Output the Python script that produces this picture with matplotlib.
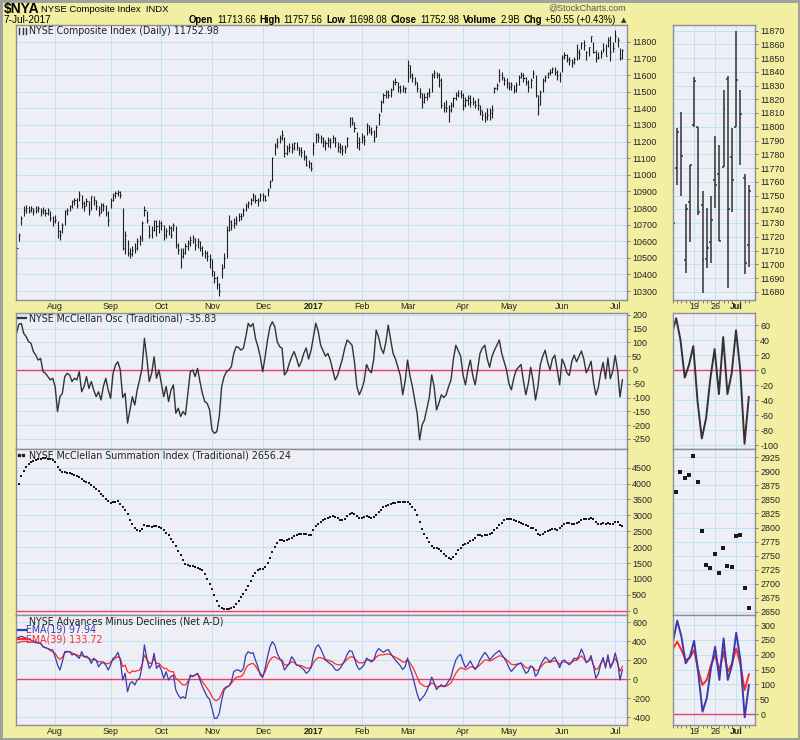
import numpy as np
import matplotlib
matplotlib.use('Agg')
import matplotlib.pyplot as plt
from matplotlib.collections import LineCollection
from matplotlib.lines import Line2D

# ---------------------------------------------------------------------------
# Datos (un valor por sesion, 8-jul-2016 .. 7-jul-2017)

closes = [
    10560, 10640, 10740, 10790, 10800, 10790, 10800, 10780, 10790, 10800, 10780, 10790, 10770, 10790, 10740, 10720,
    10730, 10660, 10640, 10700, 10780, 10790, 10810, 10840, 10850, 10820, 10880, 10830, 10810, 10840, 10780, 10870, 10850, 10810, 10770, 10820, 10810, 10770, 10730,
    10850, 10880, 10890, 10895, 10880, 10560, 10640, 10530, 10520, 10550, 10560, 10600, 10620, 10710, 10790, 10730, 10640, 10670, 10720, 10690, 10710,
    10700, 10640, 10660, 10680, 10640, 10700, 10580, 10550, 10510, 10530, 10570, 10590, 10610, 10620, 10580, 10600, 10560, 10530, 10530, 10510, 10490,
    10420, 10380, 10340, 10300, 10440, 10500, 10670, 10720, 10700, 10710, 10730, 10750, 10750, 10790, 10810, 10830, 10850, 10880, 10850, 10840, 10880,
    10870, 10850, 10910, 10960, 11100, 11180, 11200, 11220, 11240, 11130, 11160, 11170, 11160, 11190, 11170, 11150, 11140, 11110, 11060, 11070, 11040,
    11180, 11240, 11230, 11220, 11200, 11190, 11210, 11200, 11220, 11200, 11170, 11160, 11150, 11160, 11220, 11340, 11320, 11280, 11190, 11200,
    11230, 11210, 11300, 11270, 11260, 11230, 11290, 11360, 11440, 11480, 11500, 11480, 11510, 11560, 11560, 11530, 11510, 11520, 11520,
    11660, 11600, 11580, 11560, 11520, 11490, 11440, 11470, 11490, 11500, 11600, 11610, 11600, 11570, 11420, 11410, 11400, 11390, 11420, 11460, 11480, 11490, 11480,
    11420, 11450, 11460, 11440, 11440, 11420, 11420, 11390, 11360, 11350, 11360, 11370, 11390, 11520, 11540, 11600, 11590, 11570, 11550,
    11530, 11540, 11510, 11540, 11590, 11600, 11580, 11560, 11530, 11570, 11610, 11480, 11420, 11500, 11570, 11590, 11610, 11620, 11640, 11620, 11600, 11600,
    11710, 11720, 11700, 11690, 11680, 11700, 11740, 11730, 11796, 11779, 11740, 11772, 11833, 11738, 11703, 11712, 11732, 11758, 11717, 11813, 11740, 11761,
    11834, 11809, 11701, 11752.98]

highs = [
    10580, 10650, 10750, 10810, 10820, 10810, 10815, 10800, 10810, 10815, 10800, 10805, 10795, 10800, 10780, 10750,
    10760, 10720, 10670, 10710, 10790, 10800, 10820, 10850, 10860, 10860, 10900, 10880, 10840, 10860, 10840, 10875, 10870, 10850, 10810, 10830, 10830, 10820, 10780,
    10860, 10890, 10900, 10910, 10900, 10800, 10660, 10610, 10560, 10570, 10590, 10620, 10640, 10720, 10810, 10780, 10700, 10690, 10730, 10730, 10730,
    10720, 10700, 10680, 10700, 10690, 10710, 10690, 10590, 10560, 10560, 10590, 10610, 10630, 10640, 10620, 10620, 10600, 10570, 10550, 10540, 10520,
    10490, 10420, 10390, 10350, 10460, 10530, 10690, 10760, 10730, 10740, 10750, 10770, 10770, 10800, 10830, 10840, 10860, 10890, 10880, 10860, 10890,
    10890, 10880, 10920, 10970, 11110, 11190, 11220, 11240, 11270, 11230, 11180, 11190, 11190, 11200, 11200, 11170, 11170, 11150, 11120, 11090, 11080,
    11200, 11250, 11250, 11240, 11230, 11210, 11230, 11220, 11240, 11230, 11200, 11190, 11180, 11180, 11230, 11350, 11350, 11320, 11260, 11230,
    11250, 11240, 11310, 11300, 11290, 11270, 11300, 11370, 11450, 11490, 11510, 11510, 11520, 11570, 11580, 11560, 11540, 11540, 11530,
    11690, 11660, 11610, 11590, 11560, 11520, 11490, 11490, 11500, 11520, 11610, 11630, 11620, 11610, 11580, 11440, 11450, 11420, 11440, 11470, 11500, 11510, 11510,
    11490, 11470, 11480, 11480, 11470, 11450, 11460, 11420, 11390, 11380, 11400, 11400, 11420, 11530, 11550, 11640, 11620, 11590, 11580,
    11560, 11560, 11540, 11560, 11600, 11620, 11610, 11590, 11570, 11580, 11630, 11600, 11480, 11510, 11580, 11600, 11620, 11640, 11650, 11650, 11630, 11620,
    11720, 11740, 11730, 11710, 11700, 11710, 11790, 11760, 11799, 11811, 11744, 11772, 11836, 11800, 11753, 11741, 11750, 11793, 11787, 11827, 11837, 11799,
    11870, 11827, 11766, 11757.56]

lows = [
    10410, 10600, 10700, 10750, 10770, 10770, 10775, 10760, 10770, 10775, 10750, 10765, 10750, 10760, 10720, 10690,
    10710, 10620, 10610, 10650, 10700, 10760, 10780, 10800, 10820, 10800, 10840, 10800, 10780, 10810, 10760, 10790, 10820, 10790, 10750, 10770, 10780, 10750, 10690,
    10800, 10840, 10860, 10870, 10860, 10550, 10520, 10510, 10500, 10510, 10530, 10550, 10580, 10600, 10750, 10710, 10620, 10620, 10660, 10630, 10650,
    10670, 10610, 10620, 10640, 10620, 10660, 10560, 10520, 10440, 10500, 10520, 10550, 10570, 10590, 10550, 10560, 10540, 10510, 10500, 10480, 10440,
    10390, 10350, 10310, 10270, 10380, 10440, 10500, 10660, 10670, 10680, 10700, 10720, 10730, 10750, 10780, 10800, 10820, 10840, 10830, 10810, 10840,
    10840, 10840, 10870, 10920, 10960, 11120, 11160, 11190, 11210, 11110, 11120, 11140, 11130, 11150, 11150, 11120, 11110, 11090, 11050, 11040, 11020,
    11120, 11190, 11200, 11190, 11170, 11150, 11170, 11160, 11190, 11170, 11140, 11130, 11120, 11130, 11170, 11290, 11300, 11260, 11160, 11150,
    11190, 11180, 11240, 11250, 11240, 11200, 11230, 11300, 11380, 11430, 11460, 11460, 11470, 11510, 11540, 11500, 11490, 11500, 11490,
    11560, 11580, 11560, 11540, 11500, 11460, 11400, 11430, 11450, 11470, 11500, 11580, 11580, 11530, 11400, 11380, 11380, 11320, 11380, 11410, 11450, 11470, 11460,
    11390, 11410, 11420, 11410, 11420, 11400, 11390, 11360, 11330, 11320, 11330, 11330, 11340, 11490, 11510, 11560, 11570, 11540, 11520,
    11510, 11510, 11490, 11500, 11540, 11580, 11560, 11540, 11500, 11520, 11580, 11470, 11360, 11420, 11500, 11560, 11580, 11600, 11610, 11600, 11570, 11560,
    11620, 11700, 11680, 11660, 11650, 11670, 11690, 11700, 11758, 11750, 11694, 11716, 11800, 11736, 11679, 11697, 11701, 11741, 11717, 11771, 11683, 11738,
    11800, 11772, 11693, 11698.08]

# aperturas solo de las 18 ultimas sesiones (panel de detalle)
opens_last = [11770, 11790, 11703, 11745, 11801, 11800, 11743, 11704, 11716, 11761, 11766, 11771,
              11835, 11778, 11800, 11826, 11763, 11713.66]

mcclellan_osc = [
    133, 166, 169, 133, 121, 103, 97, 67, 54, 36, 42, -6, -12, -24, -36, -30,
    -60, -151, -97, -85, -24, -12, -18, -42, -30, -36, -6, -79, -60, -24, -67, -42, -73, -97, -79, -109, -60, -30, -73,
    -103, -12, 18, 30, 0, -100, -85, -193, -145, -97, -127, -73, -36, 6, 115, 42, -42, -12, 48, -30, 0,
    -48, -97, -60, -115, -73, -54, -157, -139, -169, -151, -163, -85, -6, 0, -24, 6, -42, -85, -115, -121, -145,
    -218, -230, -224, -169, -60, -24, -6, 0, 12, 60, 85, 82, 72, 79, 121, 169, 157, 169, 115, 85, 48,
    -6, 48, 109, 157, 175, 157, 103, 85, 79, -18, -6, 24, 48, 67, 42, 12, 30, 60, 80, 40, 70,
    120, 170, 140, 90, 70, 50, 60, 36, 0, -36, -20, 10, 40, 80, 109, 100, 90, 30, -60, -90,
    -70, -40, 20, 0, -10, 40, 145, 120, 80, 60, 100, 163, 110, 60, 40, 10, -20, -90, -40,
    36, -20, -60, -109, -160, -254, -200, -181, -140, -100, -18, -60, -145, -120, -90, -100, -90, -60, -36, 40, 90, 70, 50,
    -20, -54, 0, 36, -20, -54, 0, 60, 80, 90, 40, 10, 50, 72, 90, 109, 60, 30, 0,
    -50, -72, -30, 0, 10, 20, -40, -90, -50, 10, -40, -109, -60, 20, 50, 72, 30, 0, 40, 54, 0, -54,
    40, 20, -10, -20, 30, 54, 30, 49, 69, 40, -10, 7, 32, -42, -91, -64, -11, 28, -32, 44, -32, -4,
    53, 0, -98, -35.83]

summation = [
    3780, 3988, 4249, 4406, 4510, 4615, 4667, 4719, 4740, 4760, 4780, 4790, 4790, 4780, 4760, 4740,
    4667, 4510, 4427, 4375, 4354, 4343, 4322, 4301, 4270, 4249, 4218, 4145, 4093, 4061, 4009, 3957, 3905, 3832, 3759, 3675, 3602, 3518, 3445,
    3383, 3414, 3435, 3445, 3362, 3257, 3174, 3028, 2861, 2715, 2610, 2548, 2506, 2579, 2683, 2662, 2652, 2631, 2652, 2652, 2631,
    2600, 2527, 2443, 2370, 2266, 2161, 2025, 1879, 1744, 1608, 1483, 1430, 1410, 1399, 1378, 1357, 1326, 1274, 1169, 1013, 856,
    668, 491, 313, 157, 73, 52, 52, 52, 73, 125, 209, 313, 418, 522, 647, 783, 940, 1086, 1201, 1274, 1305,
    1326, 1378, 1503, 1671, 1848, 2005, 2130, 2213, 2234, 2193, 2213, 2245, 2297, 2339, 2370, 2401, 2422, 2401, 2401, 2370, 2370,
    2527, 2652, 2735, 2788, 2840, 2882, 2923, 2944, 2965, 2944, 2913, 2861, 2840, 2882, 2965, 3028, 3070, 3028, 2965, 2923,
    2923, 2944, 2965, 2944, 2923, 2944, 2996, 3101, 3184, 3257, 3310, 3341, 3362, 3383, 3404, 3414, 3424, 3435, 3435,
    3414, 3362, 3257, 3153, 2996, 2788, 2579, 2422, 2297, 2161, 2025, 1984, 1973, 1942, 1869, 1796, 1733, 1671, 1639, 1691, 1796, 1900, 1984,
    2057, 2109, 2130, 2193, 2234, 2297, 2370, 2380, 2360, 2370, 2380, 2401, 2443, 2527, 2610, 2683, 2756, 2840, 2882,
    2892, 2871, 2840, 2809, 2788, 2767, 2735, 2704, 2652, 2610, 2610, 2527, 2422, 2370, 2401, 2474, 2506, 2548, 2579, 2568, 2548, 2610,
    2652, 2735, 2756, 2756, 2735, 2735, 2756, 2788, 2863, 2899, 2888, 2893, 2928, 2882, 2794, 2733, 2727, 2753, 2719, 2763, 2732, 2730,
    2784, 2786, 2693, 2656.24]

ema19 = [
    430, 440, 450, 440, 430, 420, 410, 400, 390, 380, 375, 340, 330, 320, 310, 305,
    235, 150, 95, 182, 288, 290, 288, 253, 263, 240, 218, 288, 235, 240, 218, 165, 218, 200, 130, 165, 175, 147, 95,
    150, 218, 235, 281, 200, -10, 60, -133, -45, -28, -63, -10, 7, 130, 358, 218, 112, 147, 270, 112, 147,
    95, 7, 77, -10, 25, 42, -116, -168, -204, -186, -204, -63, 42, 25, 42, 60, -10, -81, -133, -186, -214,
    -309, -414, -414, -361, -221, -116, -88, -74, -28, 77, 95, 95, 77, 112, 253, 288, 270, 277, 200, 130, 42,
    17, 112, 235, 340, 393, 358, 270, 218, 182, 95, 130, 165, 235, 200, 147, 140, 120, 100, 60, 80, 120,
    250, 330, 360, 320, 260, 200, 180, 160, 140, 100, 90, 110, 150, 200, 260, 300, 290, 220, 140, 100,
    120, 150, 220, 200, 180, 200, 280, 320, 300, 280, 300, 310, 270, 230, 200, 170, 140, 100, 130,
    220, 120, 40, -60, -160, -230, -200, -170, -120, -60, 20, -40, -110, -80, -60, -80, -60, -20, 20, 120, 200, 240, 260,
    180, 120, 150, 190, 140, 100, 140, 200, 240, 280, 250, 200, 230, 260, 280, 300, 260, 220, 180,
    120, 80, 110, 140, 160, 170, 110, 60, 80, 140, 120, 30, 60, 140, 190, 230, 210, 180, 210, 230, 180, 120,
    190, 200, 170, 150, 180, 220, 210, 244, 315, 261, 171, 193, 247, 137, 8, 53, 154, 227, 115, 255, 115, 165,
    274, 182, -11, 97.94]

ema39 = [
    380, 385, 392, 395, 395, 393, 390, 387, 383, 379, 375, 340, 330, 320, 300, 288,
    270, 230, 207, 228, 277, 285, 288, 275, 263, 255, 242, 250, 235, 228, 218, 200, 205, 195, 182, 182, 178, 165, 160,
    180, 200, 218, 235, 218, 130, 147, 77, 60, 88, 77, 88, 95, 147, 253, 207, 165, 165, 218, 165, 165,
    137, 112, 112, 88, 77, 77, 7, -10, -39, -63, -63, -28, 25, 32, 42, 53, 17, -28, -63, -98, -133,
    -186, -221, -228, -204, -151, -98, -81, -74, -45, -10, 17, 25, 25, 53, 112, 147, 158, 165, 137, 95, 60,
    32, 77, 147, 200, 228, 235, 218, 207, 200, 147, 147, 158, 182, 175, 147, 145, 140, 130, 115, 115, 125,
    170, 205, 225, 225, 215, 205, 200, 190, 180, 160, 150, 150, 160, 180, 210, 230, 235, 220, 190, 170,
    170, 175, 200, 200, 195, 200, 230, 250, 255, 255, 260, 265, 255, 240, 230, 215, 200, 180, 180,
    200, 170, 130, 80, 20, -40, -60, -75, -80, -70, -40, -55, -80, -80, -75, -80, -75, -60, -40, 10, 60, 95, 120,
    110, 100, 110, 130, 125, 115, 125, 150, 175, 200, 200, 190, 200, 215, 230, 245, 240, 225, 205,
    180, 155, 150, 155, 160, 165, 145, 120, 115, 130, 125, 90, 90, 120, 150, 175, 180, 175, 185, 195, 180, 155,
    175, 180, 175, 165, 175, 195, 195, 221, 244, 216, 182, 190, 216, 148, 98, 115, 165, 199, 148, 210, 143, 171,
    221, 165, 81, 133.72]

# primeras sesiones de cada mes (indice de sesion) y sus etiquetas
month_idx = [16, 39, 60, 81, 102, 123, 143, 162, 185, 204, 226, 248]
month_lbl = ['Aug', 'Sep', 'Oct', 'Nov', 'Dec', '2017', 'Feb', 'Mar', 'Apr', 'May', 'Jun', 'Jul']
week_idx = [238, 243, 248]
week_lbl = ['19', '26', 'Jul']

for serie in (closes, highs, lows, mcclellan_osc, summation, ema19, ema39):
    assert len(serie) == 252, len(serie)

# ---------------------------------------------------------------------------
# Estilo

W, H = 800, 740
YELLOW = '#f2efa3'
FACE = '#eeeef6'
GRID = '#bde4f1'
EDGE = '#8e8e98'
ZERO = '#e8406a'
SANS = ['Liberation Sans', 'DejaVu Sans']
VERD = ['DejaVu Sans']

plt.rcParams['font.family'] = SANS
plt.rcParams['axes.unicode_minus'] = False

fig = plt.figure(figsize=(W / 100, H / 100), dpi=100, facecolor=YELLOW)
fig.patch.set_edgecolor('#a0a0a0')
fig.patch.set_linewidth(2.5)


def ftext(x, y, s, **kw):
    kw.setdefault('va', 'center')
    return fig.text(x / W, 1 - y / H, s, **kw)


def fline(xs, ys, **kw):
    fig.add_artist(Line2D([v / W for v in xs], [1 - v / H for v in ys],
                          transform=fig.transFigure, **kw))


def text_row(pieces, x0, x1, y, size, gap=3.5):
    # coloca los trozos uno tras otro y ajusta el tamano para ocupar x0..x1
    rend = fig.canvas.get_renderer()
    arts = [ftext(x0, y, s, fontsize=size, fontweight='bold' if b else 'normal') for s, b in pieces]
    total = sum(a.get_window_extent(rend).width for a in arts) + gap * (len(arts) - 1)
    k = (x1 - x0) / total
    px = x0
    for a in arts:
        a.set_fontsize(size * k)
        a.set_x(px / W)
        px += a.get_window_extent(rend).width + gap


def panel(x0, y0, x1, y1, xlim, ylim, yticks, xticks):
    ax = fig.add_axes([x0 / W, 1 - y1 / H, (x1 - x0) / W, (y1 - y0) / H])
    ax.set_facecolor(FACE)
    for s in ax.spines.values():
        s.set_color(EDGE)
        s.set_linewidth(1.0)
    ax.set_xlim(*xlim)
    ax.set_ylim(*ylim)
    ax.yaxis.tick_right()
    ax.set_yticks(yticks)
    ax.set_yticklabels([str(v) for v in yticks])
    ax.set_xticks(xticks)
    ax.tick_params(axis='y', length=2.5, width=0.6, pad=1.2, labelsize=6.4,
                   color='#666666', labelcolor='#222222')
    ax.tick_params(axis='x', length=0, pad=1.5, labelsize=6.4, labelbottom=False,
                   labelcolor='#222222')
    ax.grid(True, color=GRID, lw=0.7)
    ax.set_axisbelow(True)
    return ax


x = np.arange(len(closes))
XL_MAIN = (-0.2, 252.9)
XL_ZOOM = (233.25, 252.45)
L, R, ZL, ZR = 16, 627, 673, 755

# ---------------------------------------------------------------------------
# Paneles

ax_p = panel(L, 25, R, 300, XL_MAIN, (10246, 11902), list(range(10300, 11801, 100)), month_idx)
ax_pz = panel(ZL, 25, ZR, 300, XL_ZOOM, (11674, 11874), list(range(11680, 11871, 10)), week_idx)
ax_o = panel(L, 313, R, 449, XL_MAIN, (-287, 207), list(range(-250, 201, 50)), month_idx)
ax_oz = panel(ZL, 313, ZR, 449, XL_ZOOM, (-105, 76), list(range(-100, 61, 20)), week_idx)
ax_s = panel(L, 449, R, 615, XL_MAIN, (-135, 5088), list(range(0, 4501, 500)), month_idx)
ax_sz = panel(ZL, 449, ZR, 615, XL_ZOOM, (2644, 2940), list(range(2650, 2926, 25)), week_idx)
ax_a = panel(L, 615, R, 725, XL_MAIN, (-484, 674), list(range(-400, 601, 200)), month_idx)
ax_az = panel(ZL, 615, ZR, 725, XL_ZOOM, (-37, 334), list(range(0, 301, 50)), week_idx)

for ax in (ax_p, ax_a):
    ax.set_xticklabels(month_lbl)
    ax.tick_params(axis='x', labelbottom=True)
    ax.get_xticklabels()[5].set_fontweight('bold')
for ax in (ax_pz, ax_az):
    ax.set_xticklabels(week_lbl)
    ax.tick_params(axis='x', labelbottom=True)
    ax.get_xticklabels()[2].set_fontweight('bold')
    ax.set_xticks(x[-19:], minor=True)
    ax.tick_params(axis='x', which='minor', length=2, width=0.6, color='#666666')

# barras OHLC
hl = np.stack([np.column_stack([x, lows]), np.column_stack([x, highs])], axis=1)
ct = np.stack([np.column_stack([x, closes]), np.column_stack([x + 0.45, closes])], axis=1)
xo = x[-len(opens_last):]
ot = np.stack([np.column_stack([xo - 0.45, opens_last]), np.column_stack([xo, opens_last])], axis=1)
ax_p.add_collection(LineCollection(np.concatenate([hl, ct]), colors='#202020', linewidths=0.8))
ax_pz.add_collection(LineCollection(np.concatenate([hl, ct, ot]), colors='#333333', linewidths=1.1))

# McClellan oscilador
for ax, lw in ((ax_o, 1.0), (ax_oz, 1.4)):
    ax.axhline(0, color=ZERO, lw=1.0)
    ax.plot(x, mcclellan_osc, color='#333333', lw=lw)

# indice de sumacion
for ax, ms in ((ax_s, 1.9), (ax_sz, 2.4)):
    ax.axhline(0, color=ZERO, lw=1.0)
    ax.plot(x, summation, 's', ms=ms, mew=0, color='#1a1a1a')

# avances menos descensos
for ax, lw in ((ax_a, 0.9), (ax_az, 1.4)):
    ax.axhline(0, color=ZERO, lw=1.0)
    ax.plot(x, ema39, color='#ff2a2a', lw=lw)
    ax.plot(x, ema19, color='#3a3aaa', lw=lw)

# ---------------------------------------------------------------------------
# Textos

ftext(4, 9, '$NYA', fontsize=10, fontweight='bold')
ftext(41, 9, 'NYSE Composite Index  INDX', fontsize=6.8)
ftext(626, 8, '@StockCharts.com', ha='right', fontsize=6.5, color='#555555')
ftext(4, 20, '7-Jul-2017', fontsize=7.3)
text_row([('Open', True), ('11713.66', False), ('High', True), ('11757.56', False),
          ('Low', True), ('11698.08', False), ('Close', True), ('11752.98', False),
          ('Volume', True), ('2.9B', False), ('Chg', True), ('+50.55 (+0.43%)', False)],
         189, 618, 20, 7.2)
ftext(621, 20, '\u25b2', fontsize=5, family=VERD, color='#333333')

# titulos de panel
TS = 6.85
for xs in (19, 22.5, 26):
    fline([xs, xs], [28, 34], color='#333333', lw=1.0)
ftext(29, 31, 'NYSE Composite Index (Daily) 11752.98', fontsize=TS, family=VERD, color='#222222')
fline([18, 26], [318, 318], color='#333333', lw=1.6)
ftext(29, 318, 'NYSE McClellan Osc (Traditional) -35.83', fontsize=TS, family=VERD, color='#222222')
fig.add_artist(Line2D([19 / W, 23 / W], [1 - 455 / H] * 2, transform=fig.transFigure,
                      ls='none', marker='s', ms=1.8, color='#222222'))
ftext(29, 455, 'NYSE McClellan Summation Index (Traditional) 2656.24', fontsize=TS, family=VERD, color='#222222')
ftext(29, 621, 'NYSE Advances Minus Declines (Net A-D)', fontsize=TS, family=VERD, color='#222222')
fline([18, 26], [630, 630], color='#3a3aaa', lw=1.6)
ftext(26, 630, 'EMA(19) 97.94', fontsize=TS, family=VERD, color='#3a3aaa')
fline([18, 26], [639, 639], color='#ff2a2a', lw=1.6)
ftext(26, 639, 'EMA(39) 133.72', fontsize=TS, family=VERD, color='#ff2a2a')

fig.savefig('out.png', dpi=100, facecolor=fig.get_facecolor(), edgecolor=fig.get_edgecolor())
